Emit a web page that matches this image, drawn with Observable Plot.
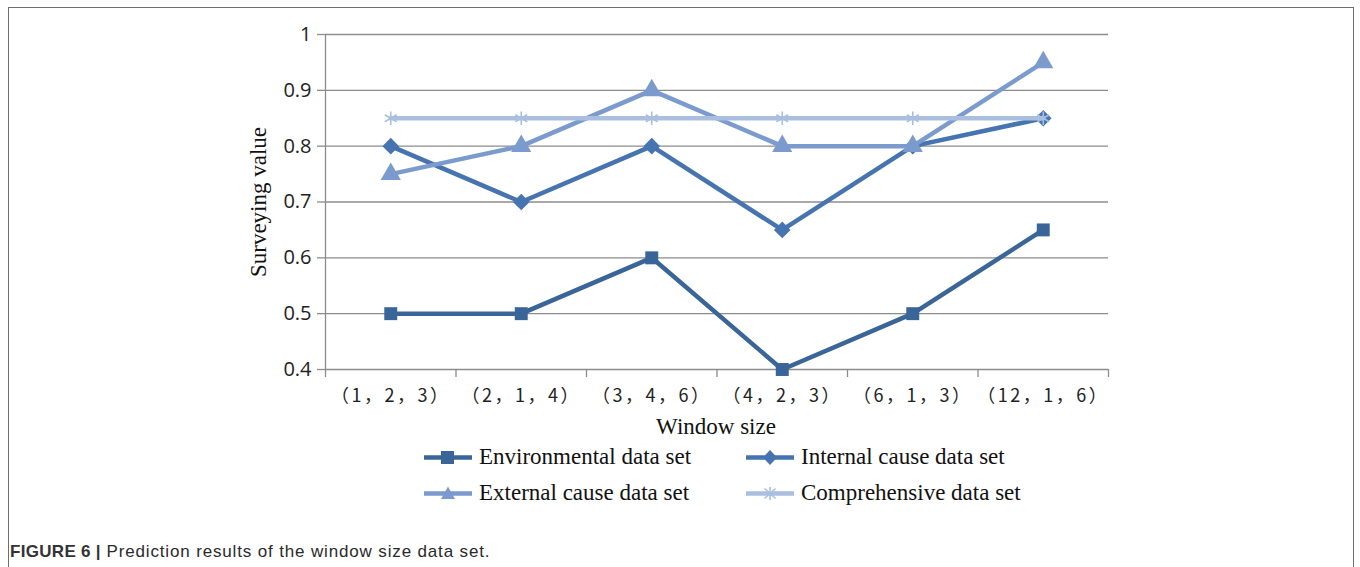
<!DOCTYPE html>
<html>
<head>
<meta charset="utf-8">
<script src="https://cdn.jsdelivr.net/npm/d3@7"></script>
<script src="https://cdn.jsdelivr.net/npm/@observablehq/plot@0.6"></script>
<style>
  html, body { margin: 0; padding: 0; background: #fff; }
  #root { position: relative; width: 1360px; height: 567px; overflow: hidden; }
  #frame { position: absolute; left: 8px; top: 7px; width: 1346px; height: 620px; border: 1.5px solid #6e6e6e; box-sizing: border-box; }
  #chart { position: absolute; left: 0; top: 0; }
  .serif { font-family: "Liberation Serif", "DejaVu Serif", serif; color: #111; }
  #xlabel { position: absolute; left: 616px; width: 200px; text-align: center; top: 414px; font-size: 23px; }
  .leg { position: absolute; display: flex; align-items: center; font-size: 23px; white-space: nowrap; }
  .leg svg { margin-right: 6px; }
  #caption { position: absolute; left: 10px; top: 542px; font-family: "Liberation Sans", Arial, sans-serif; font-size: 17px; letter-spacing: 0.85px; color: #2a2a2a; white-space: nowrap; }
  #caption b { color: #333; letter-spacing: 0.3px; }
  .xcat text { letter-spacing: 2.5px; }
</style>
</head>
<body>
<div id="root">
  <div id="frame"></div>
  <div id="chart"></div>
  <div id="xlabel" class="serif">Window size</div>
  <div id="legend"></div>
  <div id="caption"><b>FIGURE 6 |</b> Prediction results of the window size data set.</div>
</div>
<script>
// ---- data ----
const categories = ["（1，2，3）", "（2，1，4）", "（3，4，6）", "（4，2，3）", "（6，1，3）", "（12，1，6）"];
const seriesNames = ["Environmental data set", "Internal cause data set", "External cause data set", "Comprehensive data set"];
const envValues = [0.5, 0.5, 0.6, 0.4, 0.5, 0.65];
const internalValues = [0.8, 0.7, 0.8, 0.65, 0.8, 0.85];
const externalValues = [0.75, 0.8, 0.9, 0.8, 0.8, 0.95];
const compValues = [0.85, 0.85, 0.85, 0.85, 0.85, 0.85];
const yTicks = [0.4, 0.5, 0.6, 0.7, 0.8, 0.9, 1];
const yTitle = "Surveying value";

// ---- styles ----
const seriesColors = ["#3a6599", "#4674b0", "#7b9bcf", "#aabfe0"];
const seriesSymbols = ["square", "diamond2", "triangle", "asterisk"];

const allValues = [envValues, internalValues, externalValues, compValues];
const data = [];
allValues.forEach((vals, s) => vals.forEach((v, i) => data.push({series: seriesNames[s], idx: i + 0.5, value: v})));

const grid = "#8c8c8c";
const marks = [
  Plot.ruleY(yTicks, {stroke: grid, strokeWidth: 1.3}),
  Plot.ruleX([0], {stroke: grid, strokeWidth: 1.3}),
  Plot.axisX({ticks: d3.range(categories.length + 1), tickSize: 8, tickFormat: () => "", stroke: grid, strokeWidth: 1.3, label: null}),
  Plot.axisX({ticks: categories.map((_, i) => i + 0.5), tickSize: 0, tickPadding: 20, className: "xcat",
    tickFormat: v => categories[Math.round(v - 0.5)], fontSize: 18, fontFamily: "'Noto Sans CJK SC', sans-serif", fill: "#222", label: null}),
  Plot.axisY({ticks: yTicks, tickSize: 8, tickPadding: 6, tickFormat: d => String(d), stroke: grid, strokeWidth: 1.3,
    fontSize: 20, fontFamily: "'Open Sans', sans-serif", fill: "#222", label: null}),
  Plot.text([yTitle], {frameAnchor: "left", dx: -67, rotate: -90, textAnchor: "middle", fontSize: 23, fontFamily: "'Liberation Serif', serif", fill: "#111"})
];
seriesNames.forEach((name, s) => {
  const d = data.filter(r => r.series === name);
  marks.push(Plot.line(d, {x: "idx", y: "value", stroke: seriesColors[s], strokeWidth: 4.5}));
  if (seriesSymbols[s] === "asterisk") {
    marks.push(Plot.dot(d, {x: "idx", y: "value", symbol: "asterisk", r: 6.5, stroke: seriesColors[s], strokeWidth: 1.6}));
  } else {
    marks.push(Plot.dot(d, {x: "idx", y: "value", symbol: seriesSymbols[s], r: seriesSymbols[s] === "square" ? 7.3 : 7.5, fill: seriesColors[s], stroke: "none"}));
  }
});

const chart = Plot.plot({
  width: 1360,
  height: 420,
  marginLeft: 325,
  marginRight: 252,
  marginTop: 34,
  marginBottom: 51,
  x: {type: "linear", domain: [0, categories.length], axis: null, label: null},
  y: {domain: [0.4, 1], axis: null, label: null},
  style: {background: "transparent", overflow: "visible"},
  marks
});
document.getElementById("chart").appendChild(chart);

// ---- legend ----
const legendPos = [[423, 457], [745, 457], [423, 493], [745, 493]];
function markerSvg(s) {
  const c = seriesColors[s];
  let m = "";
  if (seriesSymbols[s] === "square") m = `<rect x="18" y="4" width="13" height="13" fill="${c}"/>`;
  else if (seriesSymbols[s] === "diamond2") m = `<path d="M25,3 L32,10.5 L25,18 L18,10.5Z" fill="${c}"/>`;
  else if (seriesSymbols[s] === "triangle") m = `<path d="M25,3.5 L32,16 L18,16Z" fill="${c}"/>`;
  else m = `<path d="M25,4V17M19.5,5.5L30.5,15.5M30.5,5.5L19.5,15.5" stroke="${c}" stroke-width="1.6"/>`;
  return `<svg width="50" height="21" viewBox="0 0 50 21"><line x1="1" y1="10.5" x2="49" y2="10.5" stroke="${c}" stroke-width="4.5"/>${m}</svg>`;
}
const legend = document.getElementById("legend");
seriesNames.forEach((name, s) => {
  const el = document.createElement("div");
  el.className = "leg serif";
  el.style.left = legendPos[s][0] + "px";
  el.style.top = (legendPos[s][1] - 14) + "px";
  el.style.height = "28px";
  el.innerHTML = markerSvg(s) + `<span>${name}</span>`;
  legend.appendChild(el);
});
</script>
</body>
</html>
